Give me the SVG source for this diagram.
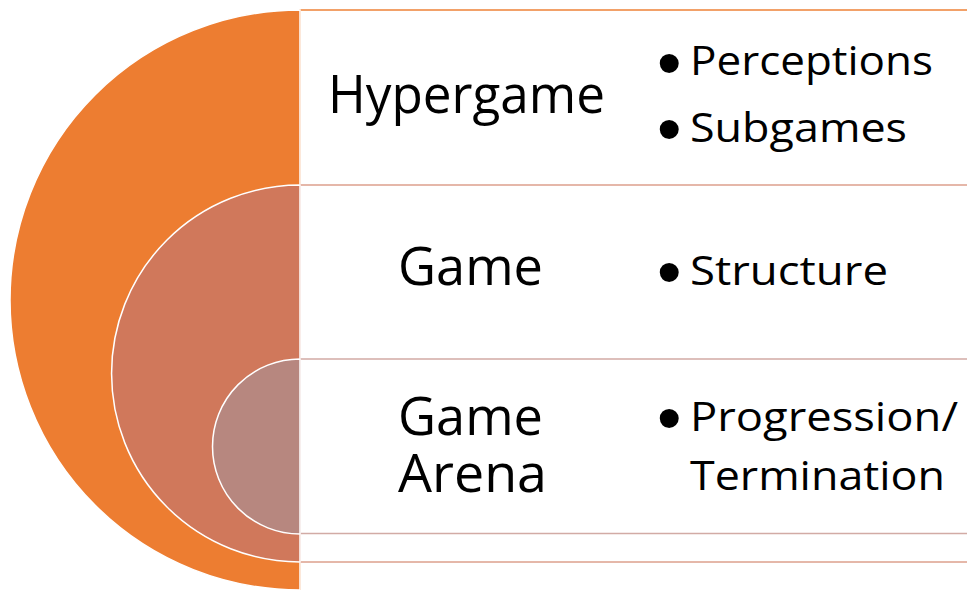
<svg xmlns="http://www.w3.org/2000/svg" width="967" height="590" viewBox="0 0 967 590">
<style>
.lbl{font-family:"Open Sans","Liberation Sans",sans-serif;fill:#000}
.big{font-size:53px}
.sm{font-size:40px}
.bul{font-family:"Liberation Sans",sans-serif;font-size:70px}
.ring{stroke:#ffffff;stroke-width:1.5}
</style>
<rect width="967" height="590" fill="#ffffff"/>
<g id="hypergame">
<rect x="300" y="10" width="700" height="600" fill="#ffffff" stroke="#EE8238" stroke-width="1.5"/>
<path class="ring" d="M300,10 A290,290 0 0 0 300,590 Z" fill="#ED7D31"/>
</g>
<g id="game">
<rect x="300" y="185" width="700" height="377" fill="#ffffff" stroke="#DDA08D" stroke-width="1.5"/>
<path class="ring" d="M300,185 A188.5,188.5 0 0 0 300,562 Z" fill="#D0785B"/>
</g>
<g id="arena">
<rect x="300" y="359" width="700" height="174.5" fill="#ffffff" stroke="#D2ABA5" stroke-width="1.5"/>
<path class="ring" d="M300,359 A87.5,87.5 0 0 0 300,534 Z" fill="#B7877F"/>
</g>
<g id="connectors"></g>
<g id="labels">
<text class="lbl big" x="328" y="113" textLength="277" lengthAdjust="spacingAndGlyphs">Hypergame</text>
<text class="lbl sm"><tspan class="bul" x="657" y="87">•</tspan><tspan x="690" y="75" textLength="243" lengthAdjust="spacingAndGlyphs">Perceptions</tspan></text>
<text class="lbl sm"><tspan class="bul" x="657" y="153">•</tspan><tspan x="690" y="142" textLength="217" lengthAdjust="spacingAndGlyphs">Subgames</tspan></text>
<text class="lbl big" x="398" y="285" textLength="145" lengthAdjust="spacingAndGlyphs">Game</text>
<text class="lbl sm"><tspan class="bul" x="657" y="296">•</tspan><tspan x="690" y="285" textLength="198" lengthAdjust="spacingAndGlyphs">Structure</tspan></text>
<text class="lbl big"><tspan x="398" y="435" textLength="145" lengthAdjust="spacingAndGlyphs">Game</tspan><tspan x="398" y="492" textLength="149" lengthAdjust="spacingAndGlyphs">Arena</tspan></text>
<text class="lbl sm"><tspan class="bul" x="657" y="442">•</tspan><tspan x="690" y="431" textLength="268" lengthAdjust="spacingAndGlyphs">Progression/</tspan><tspan x="690" y="490" textLength="255" lengthAdjust="spacingAndGlyphs">Termination</tspan></text>
</g>
</svg>
